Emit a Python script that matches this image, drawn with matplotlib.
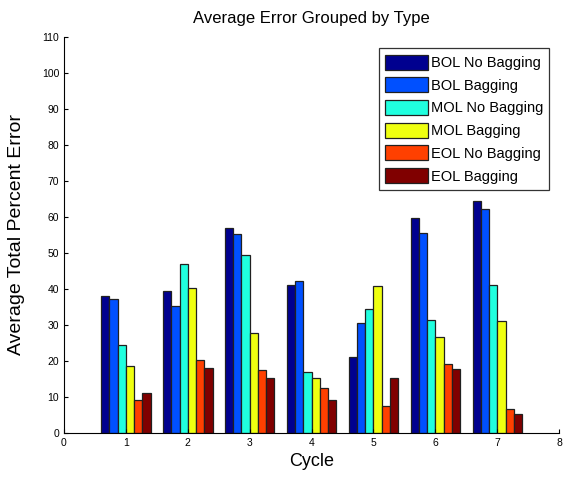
import numpy as np
import matplotlib
matplotlib.use("Agg")
import matplotlib.pyplot as plt

plt.rcParams["font.family"] = ["Liberation Sans", "DejaVu Sans"]

cycles = [1, 2, 3, 4, 5, 6, 7]
series_names = ["BOL No Bagging", "BOL Bagging", "MOL No Bagging",
                "MOL Bagging", "EOL No Bagging", "EOL Bagging"]
bol_no_bag = [38.1, 39.4, 56.9, 41.0, 21.1, 59.7, 64.5]
bol_bag = [37.2, 35.3, 55.2, 42.3, 30.5, 55.6, 62.3]
mol_no_bag = [24.4, 46.9, 49.4, 16.9, 34.3, 31.3, 41.0]
mol_bag = [18.5, 40.2, 27.9, 15.3, 40.7, 26.6, 31.0]
eol_no_bag = [9.3, 20.4, 17.5, 12.4, 7.5, 19.2, 6.7]
eol_bag = [11.1, 18.1, 15.3, 9.2, 15.3, 17.9, 5.3]
colors = ["#00008F", "#0050FF", "#20FFDF", "#EFFF10", "#FF4000", "#800000"]

series = [bol_no_bag, bol_bag, mol_no_bag, mol_bag, eol_no_bag, eol_bag]

fig = plt.figure(figsize=(5.66, 4.79), dpi=100)
ax = fig.add_axes([0.113, 0.096, 0.875, 0.827])

n = len(series)
width = 0.8 / n
x = np.array(cycles, dtype=float)
for i, (vals, name, col) in enumerate(zip(series, series_names, colors)):
    offs = (i - (n - 1) / 2) * width
    ax.bar(x + offs, vals, width, color=col, edgecolor="#202020",
           linewidth=0.9, label=name)

ax.set_xlim(0, 8)
ax.set_ylim(0, 110)
ax.set_xticks(range(0, 9))
ax.set_yticks(range(0, 111, 10))
ax.tick_params(direction="in", labelsize=7.5, length=3)
ax.spines["top"].set_visible(False)
ax.spines["right"].set_visible(False)

ax.set_title("Average Error Grouped by Type", fontsize=12, pad=10)
ax.set_xlabel("Cycle", fontsize=13)
ax.set_ylabel("Average Total Percent Error", fontsize=14, labelpad=12)

leg = ax.legend(loc="upper right", fontsize=10.5, frameon=True, fancybox=False,
                edgecolor="black", handlelength=2.9, handleheight=1.2,
                handletextpad=0.2, labelspacing=0.5, borderpad=0.45,
                bbox_to_anchor=(0.995, 0.99))
leg.get_frame().set_linewidth(0.9)

fig.savefig("out.png", dpi=100)
